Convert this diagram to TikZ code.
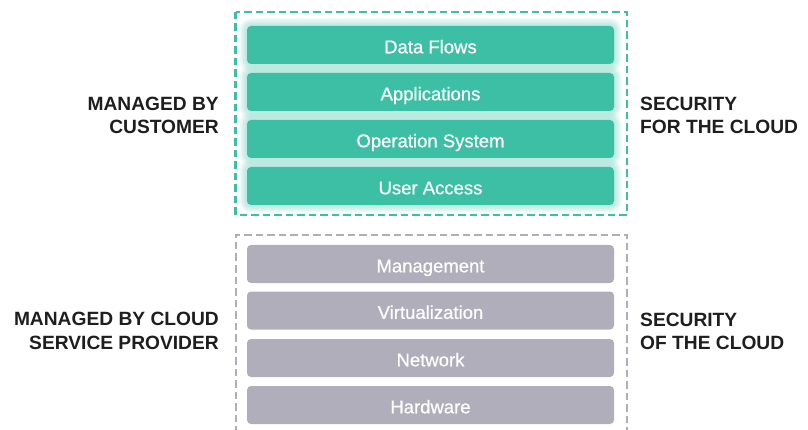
\documentclass[tikz,border=0pt]{standalone}
\usepackage{fontspec}
\setmainfont{Liberation Sans}
\newfontfamily\barfont{Liberation Sans}[FakeBold=0.6]
\definecolor{teal}{HTML}{3DBFA5}
\definecolor{slate}{HTML}{AFAEBA}
\definecolor{ink}{HTML}{1E1E1E}
\tikzset{
  layer/.style={rounded corners=4pt, minimum width=367pt, minimum height=38pt,
    inner sep=0pt, text=white, text height=16.6pt, text depth=0pt,
    font=\barfont\fontsize{18.5}{22}\selectfont},
  tealbar/.style={layer, fill=teal},
  slatebar/.style={layer, fill=slate},
  frame/.style={dash pattern=on 7.5pt off 4pt, line width=2.2pt},
  side/.style={inner sep=0pt, text=ink, font=\bfseries\fontsize{19.2}{23.4}\selectfont},
}
\begin{document}
\begin{tikzpicture}[x=1pt, y=-1pt]
\useasboundingbox (0,0) rectangle (808,430);
\clip (0,0) rectangle (808,430);

% soft halo behind the customer-managed layers
\foreach \y in {45,92,139,186}{
  \foreach \g in {1,...,8}{
    \fill[teal, opacity=0.05, rounded corners=4pt+\g pt]
      (247-\g,\y-19-\g) rectangle (614+\g,\y+19+\g);
  }
}
\node[tealbar] (df)  at (430.5,45)  {Data Flows};
\node[tealbar] (app) at (430.5,92)  {Applications};
\node[tealbar] (os)  at (430.5,139) {Operation System};
\node[tealbar] (ua)  at (430.5,186) {User Access};
\draw[frame, teal] (235.5,12) rectangle (627,215);

% provider-managed layers
\node[slatebar] (mg) at (430.5,264) {Management};
\node[slatebar] (vt) at (430.5,310.5) {Virtualization};
\node[slatebar] (nw) at (430.5,358) {Network};
\node[slatebar] (hw) at (430.5,405) {Hardware};
\draw[frame, slate, line width=2pt] (235.5,445) -- (235.5,235) -- (627,235) -- (627,445);

% responsibility labels
\node[side, align=right, anchor=east] (cust) at (219,115.5) {MANAGED BY\\CUSTOMER};
\node[side, align=left, anchor=west] (secfor) at (640,115.5) {SECURITY\\FOR THE CLOUD};
\node[side, align=right, anchor=east] (csp) at (219,331) {MANAGED BY CLOUD\\SERVICE PROVIDER};
\node[side, align=left, anchor=west] (secof) at (640,331.5) {SECURITY\\OF THE CLOUD};
\end{tikzpicture}
\end{document}
